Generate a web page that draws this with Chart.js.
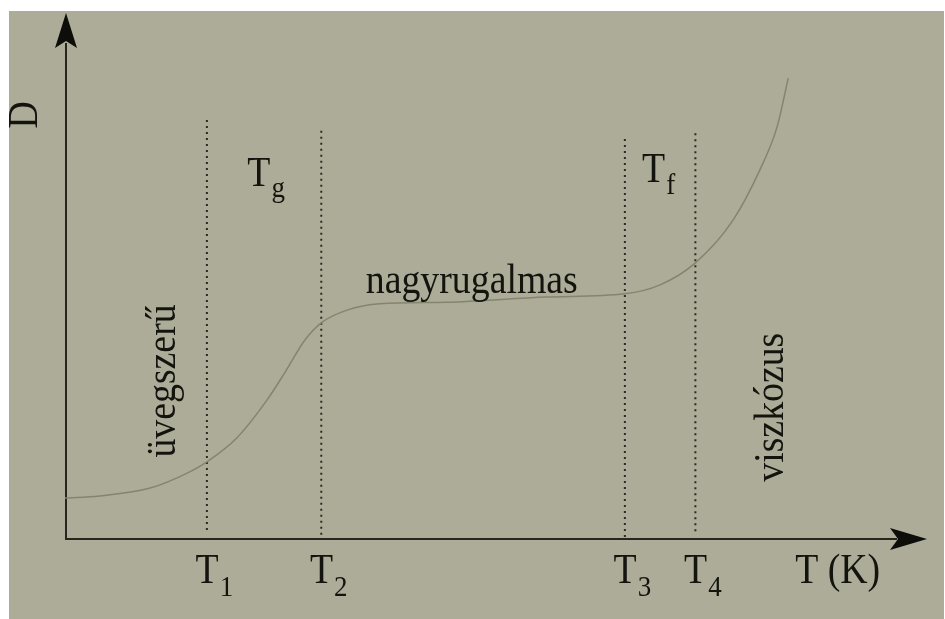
<!DOCTYPE html>
<html>
<head>
<meta charset="utf-8">
<script src="https://cdn.jsdelivr.net/npm/chart.js@4"></script>
<style>
  body { margin: 0; background: #fff; }
  canvas { display: block; }
</style>
</head>
<body>
<canvas id="dChart" width="945" height="619"></canvas>
<script>
// D(T) curve of an amorphous polymer
const temps = [0, 4, 9.9, 14.5, 16.5, 20, 23.5, 25.6, 27.9, 29.9, 32.8, 36.6, 44.4, 56, 65.1, 69.2, 73.3, 77.7, 80.8, 82.8, 84.1];
const deform = [7.8, 8.2, 9.7, 12.8, 14.7, 19.3, 26.5, 31.8, 37.9, 41.3, 43.6, 44.8, 45.1, 46.1, 46.7, 48.4, 52.6, 60.8, 70.3, 78.5, 87.8];

// transition temperatures and their dotted markers
const tSubs = ["1", "2", "3", "4"];
const tValues = [16.5, 29.8, 65.1, 73.3];
const markerTop = [80.2, 78.5, 76.6, 77.3];
const markerBottom = [1.7, 0.8, 0.4, 1.5];

const serif = "'Liberation Serif', 'DejaVu Serif', serif";
const bigFont = "42px " + serif;
const subFont = "30px " + serif;
const squeeze = 0.9;

let datasets = [{
    data: temps.map((t, i) => ({x: t, y: deform[i]})),
    showLine: true,
    borderColor: "#85846f",
    borderWidth: 1.5,
    pointRadius: 0,
    cubicInterpolationMode: "monotone"
}];
tValues.forEach((t, i) => {
    datasets.push({
        data: [{x: t, y: markerBottom[i]}, {x: t, y: markerTop[i]}],
        showLine: true,
        borderColor: "#2b2b26",
        borderWidth: 2,
        borderDash: [2, 4],
        pointRadius: 0
    });
});

const backdrop = {
    id: "backdrop",
    beforeDraw(chart) {
        const ctx = chart.ctx;
        ctx.save();
        ctx.fillStyle = "#ffffff";
        ctx.fillRect(0, 0, chart.width, chart.height);
        ctx.fillStyle = "#adac98";
        ctx.fillRect(9, 11, chart.width - 10, chart.height - 11);
        ctx.restore();
    }
};

// arrowed axes through the origin
const arrows = {
    id: "arrows",
    beforeDatasetsDraw(chart) {
        const ctx = chart.ctx;
        const x0 = chart.scales.x.getPixelForValue(0);
        const y0 = chart.scales.y.getPixelForValue(0);
        const xEnd = chart.scales.x.getPixelForValue(100) + 2;
        const yEnd = chart.scales.y.getPixelForValue(100) - 1;
        ctx.save();
        ctx.strokeStyle = "#26261f";
        ctx.fillStyle = "#0d0d0a";
        ctx.lineWidth = 2;
        ctx.beginPath();
        ctx.moveTo(x0 + 1, yEnd + 30);
        ctx.lineTo(x0 + 1, y0);
        ctx.lineTo(xEnd - 30, y0);
        ctx.stroke();

        ctx.beginPath();
        ctx.moveTo(x0 + 1, yEnd);
        ctx.lineTo(x0 - 10, yEnd + 35);
        ctx.lineTo(x0 + 1, yEnd + 28);
        ctx.lineTo(x0 + 12, yEnd + 35);
        ctx.closePath();
        ctx.fill();

        ctx.beginPath();
        ctx.moveTo(xEnd, y0);
        ctx.lineTo(xEnd - 37, y0 - 11);
        ctx.lineTo(xEnd - 29, y0);
        ctx.lineTo(xEnd - 37, y0 + 11);
        ctx.closePath();
        ctx.fill();
        ctx.restore();
    }
};

const labels = {
    id: "labels",
    afterDraw(chart) {
        const ctx = chart.ctx;
        const px = v => chart.scales.x.getPixelForValue(v);
        const py = v => chart.scales.y.getPixelForValue(v);
        ctx.save();
        ctx.fillStyle = "#14140f";
        ctx.textBaseline = "alphabetic";

        // narrow serif text, optionally turned to read bottom to top
        function text(str, x, y, font, align, turned) {
            ctx.save();
            ctx.font = font;
            ctx.textAlign = align;
            ctx.translate(x, y);
            if (turned) ctx.rotate(-Math.PI / 2);
            ctx.scale(squeeze, 1);
            ctx.fillText(str, 0, 0);
            ctx.restore();
        }
        function width(str, font) {
            ctx.font = font;
            return ctx.measureText(str).width * squeeze;
        }
        // T with a subscript, left edge at x
        function subT(x, y, sub, dy) {
            text("T", x, y, bigFont, "left");
            text(sub, x + width("T", bigFont) + 1, y + dy, subFont, "left");
        }

        tValues.forEach((t, i) => {
            const w = width("T", bigFont) + width(tSubs[i], subFont);
            subT(px(t) + 7 - w / 2, py(-8.4), tSubs[i], 13);
        });
        subT(px(21.2), py(67.2), "g", 11);
        subT(px(67.1), py(68.0), "f", 12);

        text("T (K)", px(84.9), py(-8.4), bigFont, "left");
        text("nagyrugalmas", px(47.3), py(46.9), bigFont, "center");

        text("D", px(-3.3), py(80.8), bigFont, "center", true);
        text("üvegszerű", px(12.8), py(30.1), bigFont, "center", true);
        text("viszkózus", px(83.5), py(25.1), bigFont, "center", true);
        ctx.restore();
    }
};

new Chart("dChart", {
    type: "scatter",
    data: { datasets: datasets },
    options: {
        responsive: false,
        animation: false,
        devicePixelRatio: 1,
        layout: { padding: { left: 65, right: 20, top: 14, bottom: 80 } },
        plugins: { legend: { display: false }, tooltip: { enabled: false } },
        scales: {
            x: { type: "linear", min: 0, max: 100, display: false },
            y: { min: 0, max: 100, display: false }
        }
    },
    plugins: [backdrop, arrows, labels]
});
</script>
</body>
</html>
